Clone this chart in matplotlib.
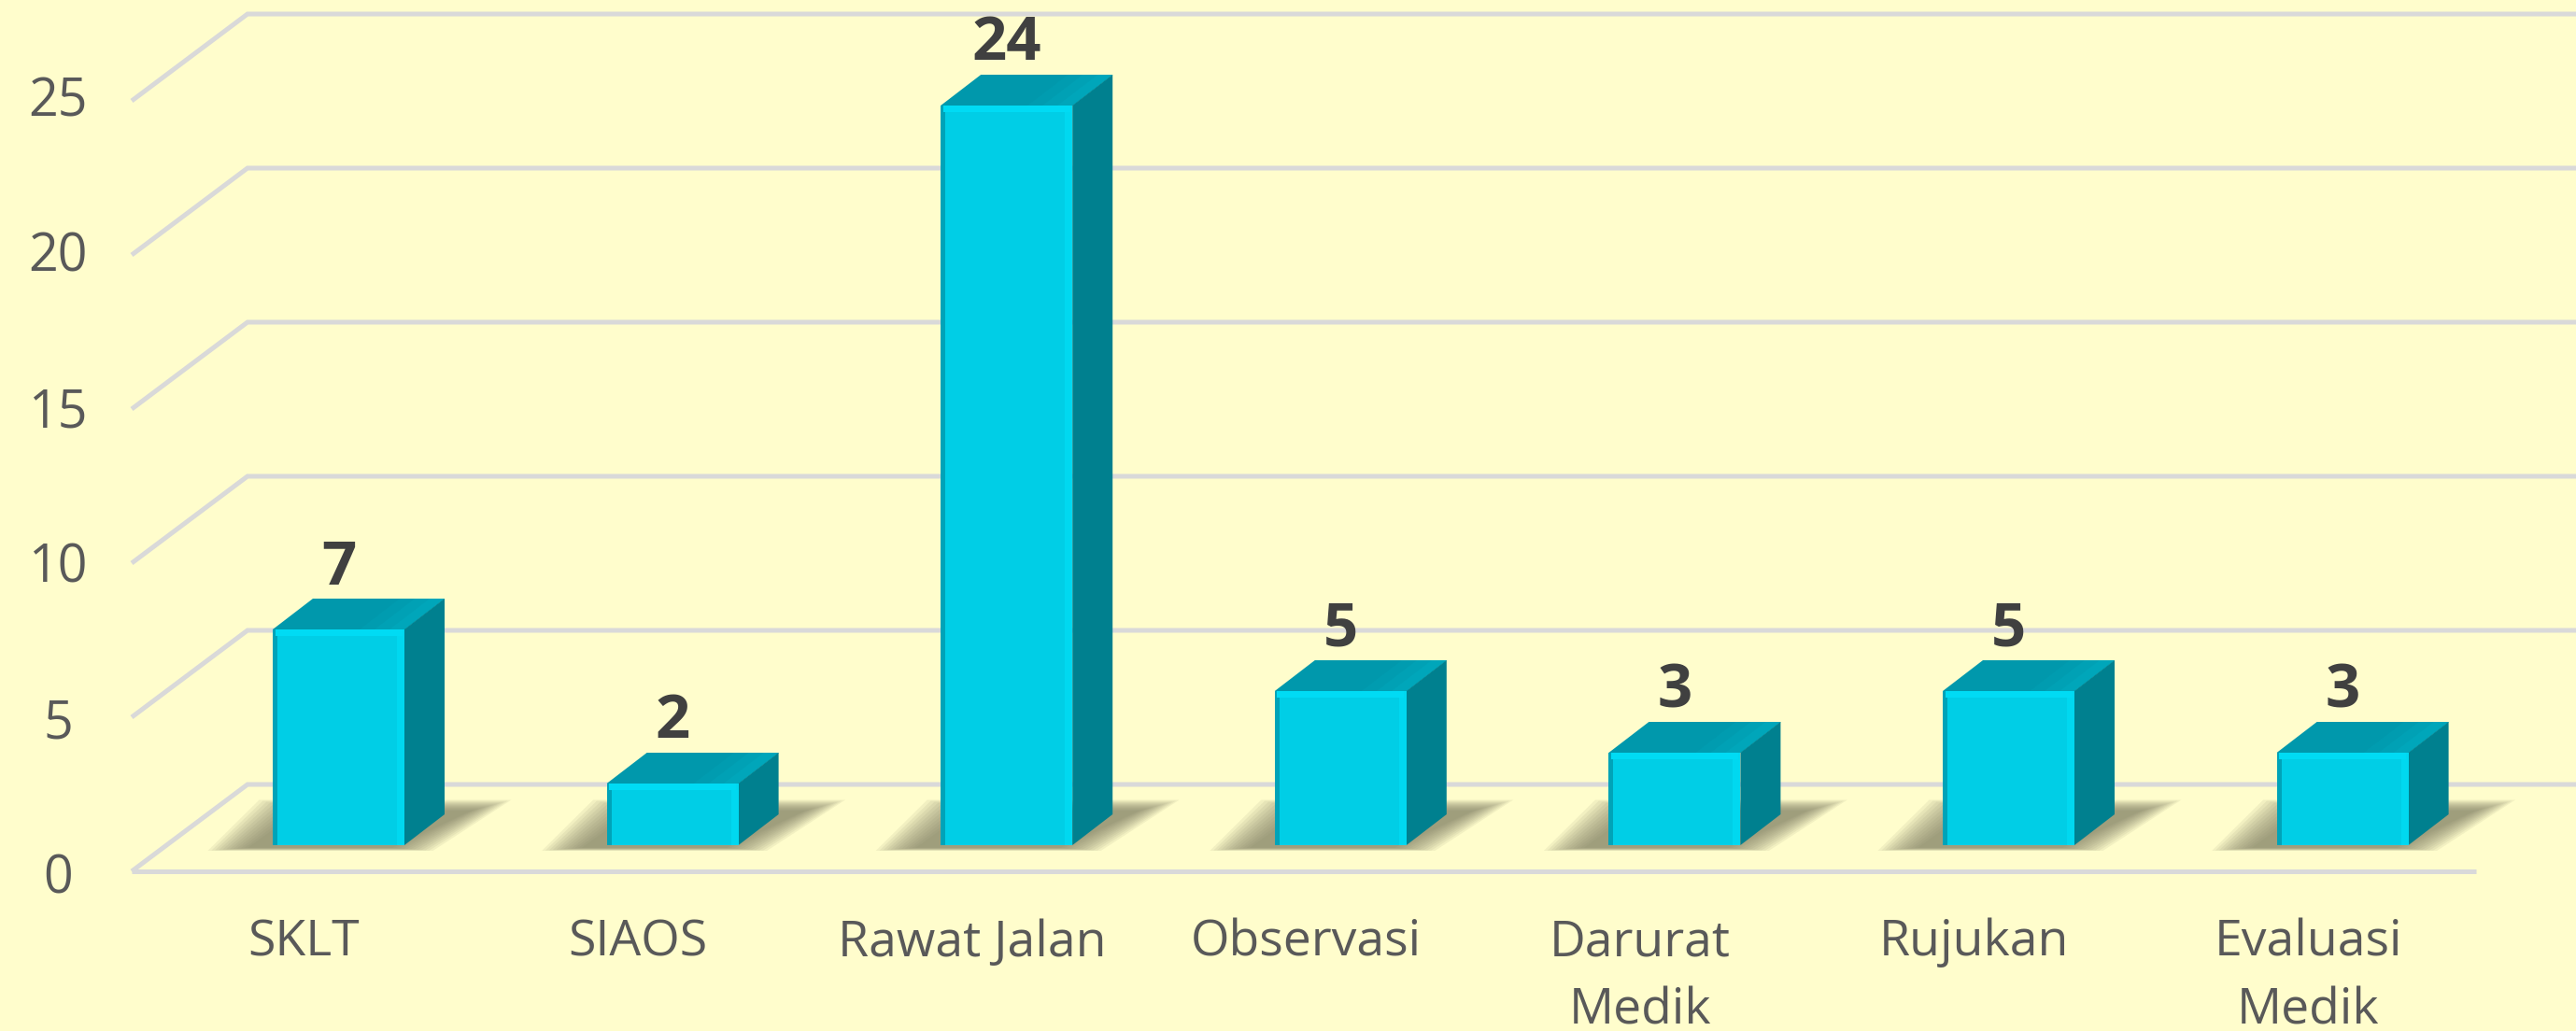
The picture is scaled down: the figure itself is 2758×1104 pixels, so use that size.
import matplotlib
matplotlib.use("Agg")
import matplotlib.pyplot as plt
from matplotlib.patches import Polygon

categories = ["SKLT", "SIAOS", "Rawat Jalan", "Observasi", "Darurat\nMedik", "Rujukan", "Evaluasi\nMedik"]
values = [7, 2, 24, 5, 3, 5, 3]
y_ticks = [0, 5, 10, 15, 20, 25]

bg = "#FFFDCC"
grid_col = "#D9D9D9"
front_col = "#00CEE6"
side_col = "#00808F"
top_col = "#0098AC"

W, H = 2758, 1104
step = 357.6        # pixels per category
unit = 33.0         # pixels per value unit
x0_px, y0_px = 362.5, 905.0

plt.rcParams["font.family"] = ["Open Sans", "DejaVu Sans"]
fig = plt.figure(figsize=(W / 100, H / 100), dpi=100, facecolor=bg)
ax = fig.add_axes([0, 0, 1, 1])
ax.set_xlim(-x0_px / step, (W - x0_px) / step)
ax.set_ylim(-(H - y0_px) / unit, y0_px / unit)
ax.axis("off")


def px_x(p):
    return p / step


def px_y(p):
    return p / unit


# walls and floor
front_y = -px_y(28)
back_y = px_y(65)
left_front = ax.get_xlim()[0] + px_x(141)
left_back = ax.get_xlim()[0] + px_x(265)
right_back = ax.get_xlim()[1]
right_front = ax.get_xlim()[0] + px_x(2651)

for t in y_ticks:
    ax.plot([left_front, left_back, right_back], [t + front_y, t + back_y, t + back_y],
            color=grid_col, lw=3.6, solid_joinstyle="miter", solid_capstyle="butt", zorder=1)
    # tick labels sit a bit wider apart than the gridlines in the original
    ax.text(ax.get_xlim()[0] + px_x(62), t * 1.0085 + front_y - px_y(9), str(t), ha="center", va="center",
            fontsize=40, color="#595959", zorder=5)
ax.plot([left_front, right_front], [front_y, front_y], color=grid_col, lw=3.6, solid_capstyle="butt", zorder=1)

# bars
half = px_x(70.5)
dx = px_x(43)
dy = px_y(33)
for i, v in enumerate(values):
    # soft shadow on the floor, stacked polygons fake the blur
    for g in range(-10, 26, 3):
        ins_x = g * 1.3
        sh = [(i + px_x(-127 + ins_x), px_y(-5 + g * 0.1)),
              (i + px_x(88 - ins_x), px_y(-5 + g * 0.1)),
              (i + px_x(172 - ins_x), px_y(45 - g * 0.35)),
              (i + px_x(-72 + ins_x), px_y(45 - g * 0.35))]
        ax.add_patch(Polygon(sh, closed=True, fc="#807F62", ec="none", alpha=0.10, zorder=2))

    # top and side faces of the box, top lightens towards its right end
    ax.add_patch(Polygon([(i - half, v), (i - half + dx, v + dy), (i + half + dx, v + dy), (i + half, v)],
                         closed=True, fc=top_col, ec="none", zorder=3))
    for w, col in zip([48, 32, 16], ["#009CB0", "#00A1B5", "#00A6BA"]):
        ax.add_patch(Polygon([(i + half - px_x(w), v), (i + half + dx - px_x(w), v + dy),
                              (i + half + dx, v + dy), (i + half, v)],
                             closed=True, fc=col, ec="none", zorder=3.1))
    ax.add_patch(Polygon([(i + half, 0), (i + half + dx, dy), (i + half + dx, v + dy), (i + half, v)],
                         closed=True, fc=side_col, ec="none", zorder=3.2))

# front faces with their bevel strips
ax.bar(range(len(values)), values, width=2 * half, color=front_col, zorder=4)
ax.bar([i - half + px_x(2.5) for i in range(len(values))], values, width=px_x(5), color="#00A3B8", zorder=4.1)
ax.bar([i + half - px_x(4) for i in range(len(values))], values, width=px_x(8), color="#00D8F0", zorder=4.1)
ax.bar(range(len(values)), [px_y(7)] * len(values), width=2 * half - px_x(5),
       bottom=[v - px_y(7) for v in values], color="#00DBF4", zorder=4.2)

# labels
for i, v in enumerate(values):
    ax.text(i, v + px_y(65), str(v), ha="center", va="center", fontsize=47, fontweight="bold",
            color="#404040", zorder=6)
    ax.text(i - px_x(37), -px_y(78), categories[i], ha="center", va="top", fontsize=38.5, color="#595959",
            linespacing=1.48, zorder=6)

fig.savefig("out.png", dpi=100, facecolor=bg)
